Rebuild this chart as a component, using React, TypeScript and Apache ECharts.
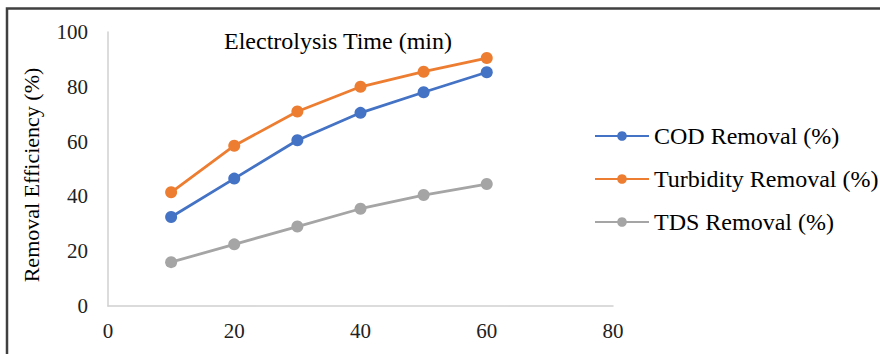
import React, { useEffect, useRef } from "react";
import * as echarts from "echarts";

const timeMin = [10, 20, 30, 40, 50, 60];
const codRemoval = [32.5, 46.5, 60.5, 70.5, 78, 85.3];
const turbidityRemoval = [41.5, 58.5, 71, 80, 85.5, 90.5];
const tdsRemoval = [16, 22.5, 29, 35.5, 40.5, 44.5];
const seriesNames = ["COD Removal (%)", "Turbidity Removal (%)", "TDS Removal (%)"];
const colors = ["#4472C4", "#ED7D31", "#A5A5A5"];

const FONT = "Liberation Serif, serif";

export default function App() {
  const ref = useRef<HTMLDivElement>(null);
  useEffect(() => {
    if (!ref.current) return;
    const chart = echarts.init(ref.current, undefined, { renderer: "svg" });
    const mk = (name: string, vals: number[], color: string) => ({
      name,
      type: "line",
      data: timeMin.map((t, i) => [t, vals[i]]),
      symbol: "circle",
      symbolSize: 12,
      itemStyle: { color },
      lineStyle: { color, width: 2.8 },
    });
    chart.setOption({
      animation: false,
      backgroundColor: "#fff",
      textStyle: { fontFamily: FONT },
      title: {
        text: "Electrolysis Time (min)",
        left: 219,
        top: 24,
        textStyle: { fontFamily: FONT, fontSize: 24, fontWeight: "normal", color: "#000" },
      },
      grid: { left: 108, top: 32, right: 267, bottom: 48 },
      legend: {
        orient: "vertical",
        left: 589,
        top: 119,
        itemWidth: 54,
        itemHeight: 12,
        itemGap: 19,
        textStyle: { fontFamily: FONT, fontSize: 24, color: "#000" },
        data: seriesNames,
      },
      xAxis: {
        type: "value",
        min: 0,
        max: 80,
        interval: 20,
        axisLine: { show: true, lineStyle: { color: "#d0d0d0", width: 1.5 } },
        axisTick: { show: false },
        splitLine: { show: false },
        axisLabel: { fontFamily: FONT, fontSize: 21, color: "#222", margin: 14 },
      },
      yAxis: {
        type: "value",
        min: 0,
        max: 100,
        interval: 20,
        name: "Removal Efficiency (%)",
        nameLocation: "middle",
        nameGap: 66,
        nameTextStyle: { fontFamily: FONT, fontSize: 22, color: "#000", padding: [0, 12, 0, 0] },
        axisLine: { show: true, lineStyle: { color: "#d0d0d0", width: 1.5 } },
        axisTick: { show: false },
        splitLine: { show: false },
        axisLabel: { fontFamily: FONT, fontSize: 21, color: "#222", margin: 20 },
      },
      graphic: [
        {
          type: "rect",
          shape: { x: 7, y: 8.5, width: 1000, height: 500 },
          style: { fill: "none", stroke: "#404040", lineWidth: 2.5 },
          silent: true,
        },
      ],
      series: [
        mk(seriesNames[0], codRemoval, colors[0]),
        mk(seriesNames[1], turbidityRemoval, colors[1]),
        mk(seriesNames[2], tdsRemoval, colors[2]),
      ],
    });
    return () => chart.dispose();
  }, []);
  return (
    <div
      ref={ref}
      style={{ position: "fixed", left: 0, top: 0, width: 880, height: 354 }}
    />
  );
}
